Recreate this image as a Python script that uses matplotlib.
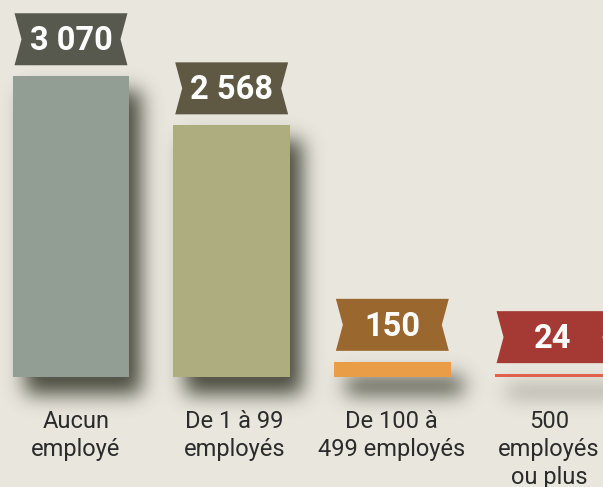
import numpy as np
import matplotlib
matplotlib.use("Agg")
import matplotlib.pyplot as plt
from matplotlib.patches import Polygon

plt.rcParams['font.family'] = ['Roboto', 'DejaVu Sans']

# data
categories = ["Aucun\nemployé", "De 1 à 99\nemployés", "De 100 à\n499 employés", "500\nemployés\nou plus"]
values = [3070, 2568, 150, 24]
value_labels = ["3 070", "2 568", "150", "24"]
bar_colors = ["#929d94", "#aead80", "#ea9d47", "#e0624a"]
banner_colors = ["#57594f", "#5f5843", "#9a672e", "#a53a34"]
bg = "#e9e7dd"

W, H = 603, 487
fig = plt.figure(figsize=(W / 100, H / 100), dpi=100, facecolor=bg)
ax = fig.add_axes([0, 0, 1, 1])
ax.set_facecolor(bg)

U = 160.67  # pixels per category
S = 0.0978  # pixels per unit value
ax.set_xlim(-71 / U, (W - 71) / U)
ax.set_ylim(-110.5 / S, (H - 110.5) / S)
ax.axis("off")

x = np.arange(len(values))
bars = ax.bar(x, values, width=0.728, color=bar_colors, zorder=3)

# soft drop shadow built from the bar extents
mask = np.zeros((H, W))
dx, dy = 12, 15
for b in bars:
    bb = b.get_window_extent()
    c0 = int(round(bb.x0)) + dx
    c1 = int(round(bb.x1)) + dx
    r0 = int(round(H - bb.y1)) + dy
    r1 = int(round(H - bb.y0)) + dy + 3
    mask[max(r0, 0):max(r1, 0), max(c0, 0):min(c1, W)] = 1.0
sigma = 10
k = np.arange(-3 * sigma, 3 * sigma + 1)
kern = np.exp(-k ** 2 / (2 * sigma ** 2))
kern /= kern.sum()
pad = 3 * sigma
mask = np.pad(mask, pad, mode="edge")
mask = np.apply_along_axis(lambda r: np.convolve(r, kern, mode="same"), 1, mask)
mask = np.apply_along_axis(lambda c: np.convolve(c, kern, mode="same"), 0, mask)
mask = mask[pad:-pad, pad:-pad]
shadow = np.zeros((H, W, 4))
shadow[..., 0] = 0.2
shadow[..., 1] = 0.2
shadow[..., 2] = 0.16
shadow[..., 3] = np.clip(mask * 1.1, 0, 1) * 0.8
xl, yl = ax.get_xlim(), ax.get_ylim()
ax.imshow(shadow, extent=(xl[0], xl[1], yl[0], yl[1]), origin="upper",
          aspect="auto", interpolation="bilinear", zorder=1)

# ribbon labels
bw = 0.703
notch = 7 / U
gap = 11 / S
bh = 52 / S
for i, v in enumerate(values):
    y0 = v + gap
    y1 = y0 + bh
    xl0 = i - bw / 2
    xr0 = i + bw / 2
    poly = Polygon([(xl0, y0), (xr0, y0), (xr0 - notch, (y0 + y1) / 2), (xr0, y1),
                    (xl0, y1), (xl0 + notch, (y0 + y1) / 2)],
                   closed=True, facecolor=banner_colors[i], edgecolor="none", zorder=4)
    ax.add_patch(poly)
    ax.annotate(value_labels[i], xy=(i, (y0 + y1) / 2), xytext=(0, -11),
                textcoords="offset pixels", ha="center", va="baseline",
                color="white", fontsize=23.5, fontweight="bold", zorder=5)

# category labels (slightly nudged, as in the original layout)
nudge = [5, 3, -1, -4]
for i, lab in enumerate(categories):
    ax.annotate(lab, xy=(i, 0), xytext=(nudge[i], -33), textcoords="offset pixels",
                ha="center", va="top", color="#2b2b2b", fontsize=17,
                linespacing=1.28)

fig.savefig("out.png", dpi=100, facecolor=bg)
